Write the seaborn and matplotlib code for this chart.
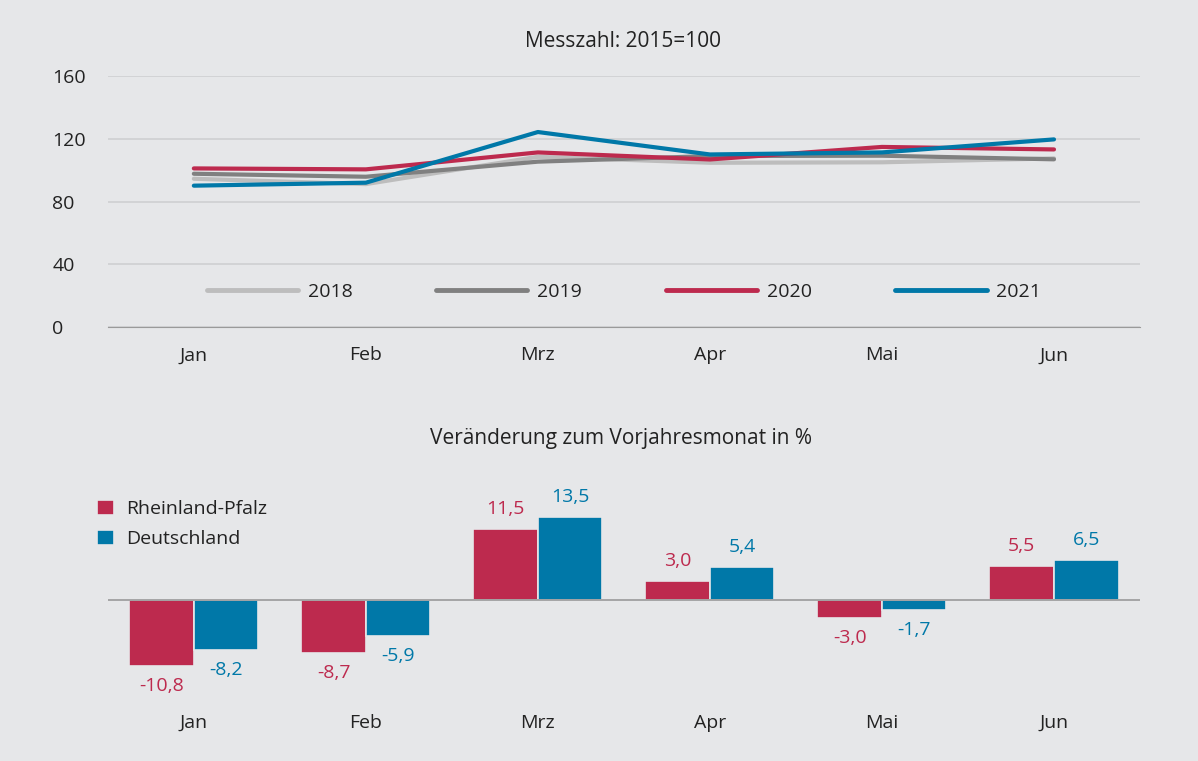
import matplotlib
matplotlib.use("Agg")
import matplotlib.pyplot as plt
import seaborn as sns
import pandas as pd

months = ["Jan", "Feb", "Mrz", "Apr", "Mai", "Jun"]

# Messzahl 2015=100
v2018 = [94.5, 91.1, 108.5, 104.7, 105.0, 107.5]
v2019 = [97.7, 95.8, 105.4, 109.0, 109.2, 106.9]
v2020 = [101.1, 100.5, 111.3, 106.8, 114.8, 113.2]
v2021 = [90.1, 92.0, 124.3, 110.0, 111.3, 119.6]

# Veraenderung zum Vorjahresmonat in %
rp = [-10.8, -8.7, 11.5, 3.0, -3.0, 5.5]
de = [-8.2, -5.9, 13.5, 5.4, -1.7, 6.5]

bg = "#e6e7e9"
red = "#bd2a4e"
blue = "#0078a8"
txt = "#222222"
fs = 14

sns.set_style("white")
plt.rcParams["font.family"] = ["Open Sans", "DejaVu Sans"]

fig = plt.figure(figsize=(11.98, 7.61), dpi=100, facecolor=bg)

# ---- top: line chart
ax1 = fig.add_axes([0.090, 0.5703, 0.8616, 0.3298], facecolor=bg)
lines = pd.DataFrame({
    "Monat": months * 4,
    "x": list(range(6)) * 4,
    "Wert": v2018 + v2019 + v2020 + v2021,
    "Jahr": ["2018"] * 6 + ["2019"] * 6 + ["2020"] * 6 + ["2021"] * 6,
})
pal = {"2018": "#bdbdbd", "2019": "#808080", "2020": red, "2021": blue}
sns.lineplot(data=lines, x="x", y="Wert", hue="Jahr", palette=pal,
             linewidth=3, ax=ax1, legend=True)
ax1.set_xlim(-0.5, 5.5)
ax1.set_ylim(0, 160)
ax1.set_yticks([0, 40, 80, 120, 160])
ax1.set_xticks(range(6))
ax1.set_xticklabels(months)
ax1.grid(axis="y", color="#cfcfd1", linewidth=1.2)
ax1.set_axisbelow(True)
for s in ["top", "right", "left"]:
    ax1.spines[s].set_visible(False)
ax1.spines["bottom"].set_color("#9a9a9a")
ax1.tick_params(axis="both", length=0, labelsize=fs, colors=txt)
ax1.tick_params(axis="x", pad=14)
ax1.tick_params(axis="y", pad=40)
for lab in ax1.get_yticklabels():
    lab.set_horizontalalignment("left")
ax1.set_xlabel("")
ax1.set_ylabel("")
leg = ax1.legend(loc="center", bbox_to_anchor=(0.5, 0.14), ncol=4, frameon=False,
                 fontsize=fs, handlelength=4.7, handletextpad=0.5, columnspacing=4.3)
for h in leg.get_lines():
    h.set_linewidth(3.5)
for t in leg.get_texts():
    t.set_color(txt)
fig.text(0.52, 0.945, "Messzahl: 2015=100", ha="center", va="center", fontsize=15, color=txt)

# ---- bottom: bar chart
ax2 = fig.add_axes([0.090, 0.0802, 0.8616, 0.2891], facecolor=bg)
bars = pd.DataFrame({
    "Monat": months * 2,
    "Wert": rp + de,
    "Region": ["Rheinland-Pfalz"] * 6 + ["Deutschland"] * 6,
})
sns.barplot(data=bars, x="Monat", y="Wert", hue="Region",
            palette={"Rheinland-Pfalz": red, "Deutschland": blue},
            width=0.75, edgecolor=bg, linewidth=1.2, saturation=1, ax=ax2)
ax2.set_xlim(-0.5, 5.5)
ax2.set_ylim(-16.3, 19.5)
ax2.axhline(0, color="#9a9a9a", linewidth=1.2)
ax2.set_yticks([])
for s in ["top", "right", "left", "bottom"]:
    ax2.spines[s].set_visible(False)
ax2.tick_params(axis="x", length=0, labelsize=fs, colors=txt, pad=10)
ax2.set_xlabel("")
ax2.set_ylabel("")

for cont, col in zip(ax2.containers, [red, blue]):
    labels = [f"{v:.1f}".replace(".", ",") for v in cont.datavalues]
    for bar, lab, v in zip(cont, labels, cont.datavalues):
        x = bar.get_x() + bar.get_width() / 2
        if v >= 0:
            ax2.annotate(lab, (x, v), xytext=(0, 8), textcoords="offset points",
                         ha="center", va="bottom", fontsize=fs, color=col)
        else:
            ax2.annotate(lab, (x, v), xytext=(0, -8), textcoords="offset points",
                         ha="center", va="top", fontsize=fs, color=col)

leg2 = ax2.legend(loc="upper left", bbox_to_anchor=(-0.027, 0.99), frameon=False,
                  fontsize=fs, handlelength=0.85, handleheight=0.85, handletextpad=0.6,
                  labelspacing=0.6)
for t in leg2.get_texts():
    t.set_color(txt)
fig.text(0.518, 0.4244, "Veränderung zum Vorjahresmonat in %", ha="center", va="center",
         fontsize=15, color=txt)

fig.savefig("out.png", dpi=100, facecolor=bg)
